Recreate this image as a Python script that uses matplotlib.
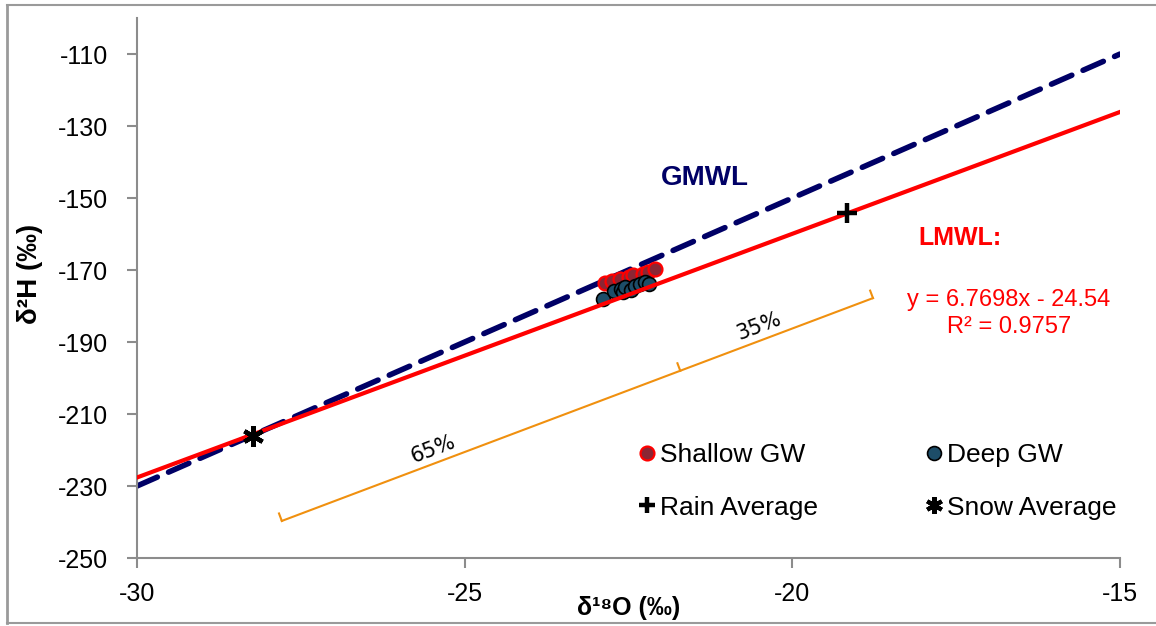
import numpy as np
import matplotlib
matplotlib.use("Agg")
import matplotlib.pyplot as plt
from matplotlib.lines import Line2D

plt.rcParams['font.family'] = ['Liberation Sans', 'DejaVu Sans']
plt.rcParams['axes.unicode_minus'] = False

# meteoric water lines
gmwl_slope, gmwl_icpt = 8.0, 10.0
lmwl_slope, lmwl_icpt = 6.7698, -24.54
line_x = [-30, -15]

# groundwater samples
shallow_x = [-22.86, -22.75, -22.63, -22.50, -22.43, -22.28, -22.20, -22.10]
shallow_y = [-173.6, -173.0, -172.4, -172.0, -171.3, -171.0, -170.5, -169.6]
deep_x = [-22.89, -22.72, -22.62, -22.58, -22.55, -22.46, -22.40, -22.32, -22.25, -22.18]
deep_y = [-178.0, -175.8, -175.2, -176.2, -174.8, -175.5, -174.5, -174.0, -173.4, -174.0]

# precipitation averages
rain_x, rain_y = [-19.17], [-154.2]
snow_x, snow_y = [-28.23], [-216.2]

# mixing bracket (snow -> rain), split point
bracket_x = [-27.79, -18.77]
bracket_y = [-239.7, -177.8]
bracket_mid = 0.674
bracket_labels = ["65%", "35%"]
bracket_label_pos = [0.265, 0.815]

xticks = [-30, -25, -20, -15]
yticks = [-250, -230, -210, -190, -170, -150, -130, -110]

fig = plt.figure(figsize=(11.56, 6.26), dpi=100)
ax = fig.add_axes([0.1185, 0.1086, 0.8504, 0.8626])
ax.set_xlim(-30, -15)
ax.set_ylim(-250, -100)

lx = np.array(line_x, dtype=float)
ax.plot(lx, gmwl_slope * lx + gmwl_icpt, color='#000066', lw=4,
        dashes=(4, 2.2), dash_capstyle='round', zorder=2)
ax.plot(lx, lmwl_slope * lx + lmwl_icpt, color='#ff0000', lw=3, zorder=4)

ax.scatter(shallow_x, shallow_y, s=100, c='#8b2634', edgecolors='#ff0000',
           linewidths=1.6, zorder=3)
ax.scatter(deep_x, deep_y, s=100, c='#1d4d68', edgecolors='black',
           linewidths=1.2, zorder=3)
ax.plot(rain_x, rain_y, marker='+', ms=14, mew=3.2, color='black',
        ls='none', zorder=5)
ax.plot(snow_x, snow_y, marker=(6, 2, 0), ms=15, mew=3.2, color='black',
        ls='none', zorder=5)

# bracket drawn parallel to LMWL
orange = '#f0900f'
bx = np.array(bracket_x)
by = np.array(bracket_y)
ax.plot(bx, by, color=orange, lw=1.5, zorder=2)
p0 = ax.transData.transform((bx[0], by[0]))
p1 = ax.transData.transform((bx[1], by[1]))
d = (p1 - p0) / np.linalg.norm(p1 - p0)
perp = np.array([-d[1], d[0]])
ang = np.degrees(np.arctan2(d[1], d[0]))
inv = ax.transData.inverted()
for f in [0.0, bracket_mid, 1.0]:
    p = p0 + f * (p1 - p0)
    q = p + 8 * perp
    a, b = inv.transform(p), inv.transform(q)
    ax.plot([a[0], b[0]], [a[1], b[1]], color=orange, lw=1.5, zorder=2)
for f, lab in zip(bracket_label_pos, bracket_labels):
    p = p0 + f * (p1 - p0) + 14 * perp
    a = inv.transform(p)
    ax.text(a[0], a[1], lab, rotation=ang, rotation_mode='anchor',
            ha='center', va='center', fontsize=15, color='black',
            family=['DejaVu Sans'])

ax.text(-21.33, -144.4, "GMWL", color='#000066', fontsize=20,
        fontweight='bold', ha='center', va='center')
ax.text(-17.44, -161.1, "LMWL:", color='#ff0000', fontsize=18,
        fontweight='bold', ha='center', va='center')
ax.text(-16.70, -182.0, "y = 6.7698x - 24.54\nR² = 0.9757", color='#ff0000',
        fontsize=17, ha='center', va='center', multialignment='center',
        linespacing=1.3)

ax.set_xticks(xticks)
ax.set_yticks(yticks)
ax.tick_params(axis='both', labelsize=18, color='#8c8c8c', length=7,
               width=1.5, direction='out')
ax.tick_params(axis='x', pad=10)
ax.tick_params(axis='y', pad=14)
for s in ['top', 'right']:
    ax.spines[s].set_visible(False)
for s in ['left', 'bottom']:
    ax.spines[s].set_color('#8c8c8c')
    ax.spines[s].set_linewidth(1.5)

ax.set_xlabel("δ¹⁸O (‰)", fontsize=18, fontweight='bold')
ax.xaxis.set_label_coords(0.5, -0.07)
ax.set_ylabel("δ²H (‰)", fontsize=20, fontweight='bold')
ax.yaxis.set_label_coords(-0.096, 0.526)

handles = [
    Line2D([], [], marker='o', ls='none', ms=10, mfc='#8b2634', mec='#ff0000', mew=1.6),
    Line2D([], [], marker='+', ls='none', ms=12, mew=3.2, color='black'),
    Line2D([], [], marker='o', ls='none', ms=10, mfc='#1d4d68', mec='black', mew=1.2),
    Line2D([], [], marker=(6, 2, 0), ls='none', ms=12, mew=3, color='black'),
]
labels = ["Shallow GW", "Rain Average", "Deep GW", "Snow Average"]
ax.legend(handles, labels, ncol=2, frameon=False, fontsize=19,
          loc='upper left', bbox_to_anchor=(0.5, 0.233),
          handlelength=0.6, handletextpad=0.2, columnspacing=4.1,
          labelspacing=1.09, borderaxespad=0)

# outer frame around the chart area
fig.add_artist(Line2D([7 / 1156, 7 / 1156], [1 - 5 / 626, 1 - 623 / 626],
                      transform=fig.transFigure, color='#9a9a9a', lw=2))
fig.add_artist(Line2D([7 / 1156, 1], [1 - 5 / 626, 1 - 5 / 626],
                      transform=fig.transFigure, color='#9a9a9a', lw=1.5))
fig.add_artist(Line2D([7 / 1156, 1], [1 - 623 / 626, 1 - 623 / 626],
                      transform=fig.transFigure, color='#9a9a9a', lw=1.5))

fig.savefig("out.png", dpi=100)
